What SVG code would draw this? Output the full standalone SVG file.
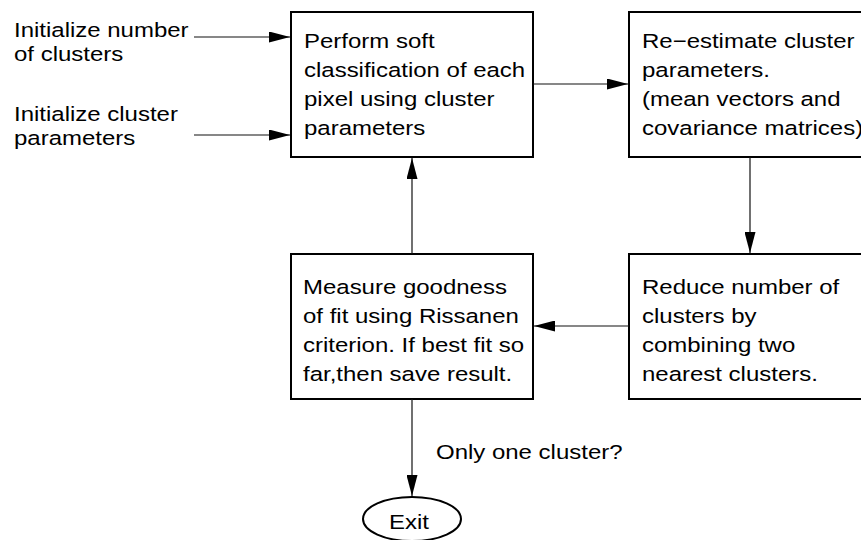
<svg xmlns="http://www.w3.org/2000/svg" width="861" height="540" viewBox="0 0 861 540">
<style>
  .box { fill: #fff; stroke: #000; stroke-width: 2; }
  .conn { fill: none; stroke: #111; stroke-width: 1.2; marker-end: url(#arr); }
  text { font-family: "Liberation Sans", Arial, sans-serif; font-size: 20.5px; fill: #000; }
</style>
<defs>
  <marker id="arr" markerUnits="userSpaceOnUse" markerWidth="21" markerHeight="11" refX="21" refY="5.5" orient="auto">
    <path d="M0,0 L21,5.5 L0,11 Z" fill="#000"/>
  </marker>
</defs>
<rect width="861" height="540" fill="#fff"/>

<g id="label-init-number">
  <text transform="translate(14 0) scale(1.17 1)"><tspan x="0" y="37">Initialize number</tspan><tspan x="0" y="61">of clusters</tspan></text>
</g>
<g id="label-init-params">
  <text transform="translate(14 0) scale(1.17 1)"><tspan x="0" y="121">Initialize cluster</tspan><tspan x="0" y="145">parameters</tspan></text>
</g>

<g id="node-classify">
  <rect class="box" x="291" y="12" width="242" height="145"/>
  <text transform="translate(304 0) scale(1.17 1)"><tspan x="0" y="48">Perform soft</tspan><tspan x="0" y="77">classification of each</tspan><tspan x="0" y="106">pixel using cluster</tspan><tspan x="0" y="135">parameters</tspan></text>
</g>

<g id="node-reestimate">
  <rect class="box" x="629" y="12" width="245" height="145"/>
  <text transform="translate(642 0) scale(1.17 1)"><tspan x="0" y="48">Re−estimate cluster</tspan><tspan x="0" y="77">parameters.</tspan><tspan x="0" y="106">(mean vectors and</tspan><tspan x="0" y="135">covariance matrices)</tspan></text>
</g>

<g id="node-measure">
  <rect class="box" x="291" y="254" width="242" height="145"/>
  <text transform="translate(303 0) scale(1.17 1)"><tspan x="0" y="294">Measure goodness</tspan><tspan x="0" y="323">of fit using Rissanen</tspan><tspan x="0" y="352">criterion. If best fit so</tspan><tspan x="0" y="381">far,then save result.</tspan></text>
</g>

<g id="node-reduce">
  <rect class="box" x="629" y="254" width="245" height="145"/>
  <text transform="translate(642 0) scale(1.17 1)"><tspan x="0" y="294">Reduce number of</tspan><tspan x="0" y="323">clusters by</tspan><tspan x="0" y="352">combining two</tspan><tspan x="0" y="381">nearest clusters.</tspan></text>
</g>

<g id="node-exit">
  <ellipse cx="412" cy="519" rx="49" ry="22" fill="#fff" stroke="#000" stroke-width="2"/>
  <text transform="translate(389 0) scale(1.17 1)"><tspan x="0" y="529">Exit</tspan></text>
</g>

<g id="connectors">
  <path class="conn" d="M194,37 H290"/>
  <path class="conn" d="M194,135 H290"/>
  <path class="conn" d="M533,84 H628"/>
  <path class="conn" d="M750,157 V253"/>
  <path class="conn" d="M629,326 H534"/>
  <path class="conn" d="M412,254 V158"/>
  <path class="conn" d="M412,399 V496"/>
  <text transform="translate(436 0) scale(1.17 1)"><tspan x="0" y="459">Only one cluster?</tspan></text>
</g>
</svg>
